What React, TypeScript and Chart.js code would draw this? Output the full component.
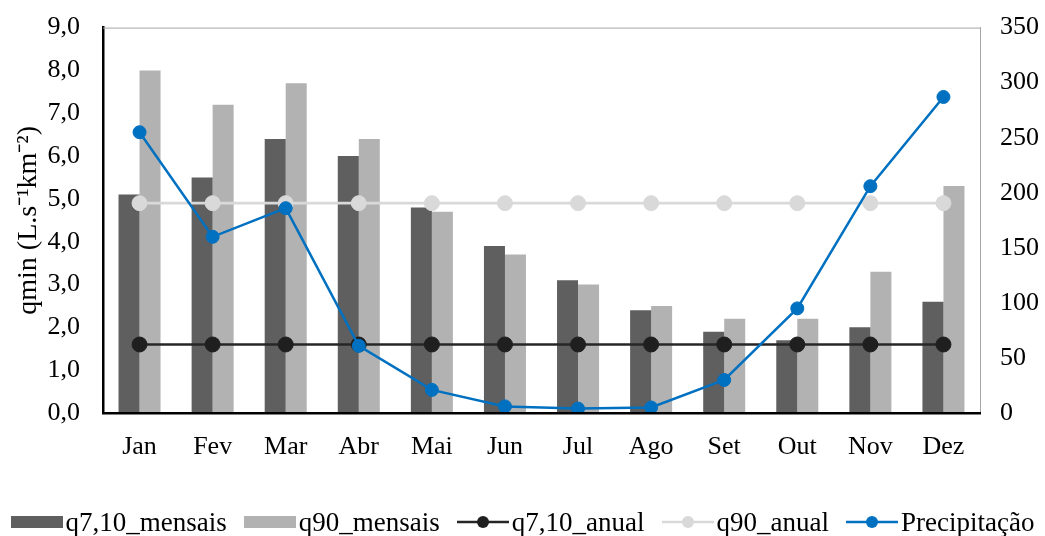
import React, { useEffect, useRef } from "react";
import { Chart, registerables } from "chart.js";

Chart.register(...registerables);

const months = ["Jan", "Fev", "Mar", "Abr", "Mai", "Jun", "Jul", "Ago", "Set", "Out", "Nov", "Dez"];
const q710Mensais = [5.1, 5.5, 6.4, 6.0, 4.8, 3.9, 3.1, 2.4, 1.9, 1.7, 2.0, 2.6];
const q90Mensais = [8.0, 7.2, 7.7, 6.4, 4.7, 3.7, 3.0, 2.5, 2.2, 2.2, 3.3, 5.3];
const q710Anual = [1.6, 1.6, 1.6, 1.6, 1.6, 1.6, 1.6, 1.6, 1.6, 1.6, 1.6, 1.6];
const q90Anual = [4.9, 4.9, 4.9, 4.9, 4.9, 4.9, 4.9, 4.9, 4.9, 4.9, 4.9, 4.9];
const precipitacao = [255, 160, 186, 61, 21, 6, 4, 5, 30, 95, 206, 287];

const FONT = "'Liberation Serif', 'Times New Roman', serif";

const C_DARK = "#5f5f5f";
const C_LIGHT = "#b2b2b2";
const C_BLACK = "#262626";
const C_GRAY = "#d9d9d9";
const C_BLUE = "#0070c0";

const SHIFT = 3;

const frame = {
  id: "frame",
  beforeDatasetsDraw(chart: any) {
    const { ctx, chartArea } = chart;
    ctx.save();
    ctx.strokeStyle = "#a6a6a6";
    ctx.lineWidth = 1;
    ctx.beginPath();
    ctx.moveTo(chartArea.left, chartArea.top + 0.5);
    ctx.lineTo(chartArea.right, chartArea.top + 0.5);
    ctx.stroke();
    ctx.restore();
  },
};

type LegendItem = { label: string; kind: "rect" | "line"; color: string; point?: string };
const legendItems: LegendItem[] = [
  { label: "q7,10_mensais", kind: "rect", color: C_DARK },
  { label: "q90_mensais", kind: "rect", color: C_LIGHT },
  { label: "q7,10_anual", kind: "line", color: C_BLACK, point: "#1f1f1f" },
  { label: "q90_anual", kind: "line", color: C_GRAY, point: C_GRAY },
  { label: "Precipitação", kind: "line", color: C_BLUE, point: C_BLUE },
];

export default function App() {
  const ref = useRef<HTMLCanvasElement | null>(null);

  useEffect(() => {
    if (!ref.current) return;
    const chart = new Chart(ref.current, {
      type: "bar",
      data: {
        labels: months,
        datasets: [
          {
            type: "bar",
            label: "q7,10_mensais",
            data: q710Mensais,
            backgroundColor: C_DARK,
            yAxisID: "y",
            order: 5,
            categoryPercentage: 0.575,
            barPercentage: 1,
          },
          {
            type: "bar",
            label: "q90_mensais",
            data: q90Mensais,
            backgroundColor: C_LIGHT,
            yAxisID: "y",
            order: 5,
            categoryPercentage: 0.575,
            barPercentage: 1,
          },
          {
            type: "line",
            label: "q7,10_anual",
            data: q710Anual,
            borderColor: C_BLACK,
            backgroundColor: "#1f1f1f",
            pointBackgroundColor: "#1f1f1f",
            pointBorderColor: "#1f1f1f",
            borderWidth: 2.7,
            pointRadius: 7.5,
            pointBorderWidth: 1,
            yAxisID: "y",
            order: 3,
          },
          {
            type: "line",
            label: "q90_anual",
            data: q90Anual,
            borderColor: C_GRAY,
            backgroundColor: C_GRAY,
            pointBackgroundColor: C_GRAY,
            pointBorderColor: C_GRAY,
            borderWidth: 2.7,
            pointRadius: 7.5,
            pointBorderWidth: 1,
            yAxisID: "y",
            order: 4,
          },
          {
            type: "line",
            label: "Precipitação",
            data: precipitacao,
            borderColor: C_BLUE,
            backgroundColor: C_BLUE,
            pointBackgroundColor: C_BLUE,
            pointBorderColor: C_BLUE,
            borderWidth: 2.5,
            pointRadius: 6.5,
            pointBorderWidth: 1,
            yAxisID: "y1",
            order: 1,
          },
        ],
      },
      options: {
        responsive: false,
        animation: false,
        devicePixelRatio: 1,
        layout: { padding: { top: 15, left: 0, right: 0, bottom: 0 } },
        plugins: {
          legend: { display: false },
          tooltip: { enabled: false },
        },
        scales: {
          x: {
            grid: { display: false },
            border: { display: true, color: "#000000", width: 2.5, z: 1 },
            ticks: {
              color: "#000000",
              font: { family: FONT, size: 26 },
              padding: 11,
              maxRotation: 0,
            },
            afterFit: (s: any) => {
              s.height = 123;
            },
          },
          y: {
            position: "left",
            min: 0,
            max: 9,
            grid: { display: false },
            border: { display: true, color: "#000000", width: 2.5 },
            ticks: {
              stepSize: 1,
              color: "#000000",
              font: { family: FONT, size: 26 },
              padding: 15,
              callback: (v: any) => Number(v).toFixed(1).replace(".", ","),
            },
            title: {
              display: true,
              text: "qmin (L.s⁻¹km⁻²)",
              color: "#000000",
              font: { family: FONT, size: 28 },
              padding: { top: 12, bottom: 0 },
            },
            afterFit: (s: any) => {
              s.width = 103;
            },
          },
          y1: {
            position: "right",
            min: 0,
            max: 350,
            grid: { display: false },
            border: { display: true, color: "#a6a6a6", width: 1 },
            ticks: {
              stepSize: 50,
              color: "#000000",
              font: { family: FONT, size: 26 },
              padding: 12,
            },
            afterFit: (s: any) => {
              s.width = 65;
            },
          },
        },
      },
      plugins: [frame],
    } as any);
    return () => chart.destroy();
  }, []);

  return (
    <div
      style={{
        position: "absolute",
        left: 0,
        top: 0,
        width: 1045,
        height: 536,
        background: "#fff",
        overflow: "hidden",
      }}
    >
      <canvas
        ref={ref}
        width={1045}
        height={536 + SHIFT}
        style={{ display: "block", position: "absolute", left: 0, top: -SHIFT, width: 1045, height: 536 + SHIFT }}
      />
      <div
        style={{
          position: "absolute",
          left: 0,
          top: 506,
          width: 1045,
          height: 32,
          display: "flex",
          justifyContent: "center",
          alignItems: "center",
          gap: 17,
          fontFamily: FONT,
          fontSize: 27,
          color: "#000",
          whiteSpace: "nowrap",
        }}
      >
        {legendItems.map((it) => (
          <div key={it.label} style={{ display: "flex", alignItems: "center" }}>
            {it.kind === "rect" ? (
              <svg width={52} height={16} style={{ display: "block", marginRight: 3 }}>
                <rect x={0} y={2} width={52} height={12} fill={it.color} />
              </svg>
            ) : (
              <svg width={52} height={16} style={{ display: "block", marginRight: 3 }}>
                <line x1={0} y1={8} x2={52} y2={8} stroke={it.color} strokeWidth={2.7} />
                <circle cx={26} cy={8} r={6} fill={it.point} />
              </svg>
            )}
            <span style={{ lineHeight: "32px" }}>{it.label}</span>
          </div>
        ))}
      </div>
    </div>
  );
}
